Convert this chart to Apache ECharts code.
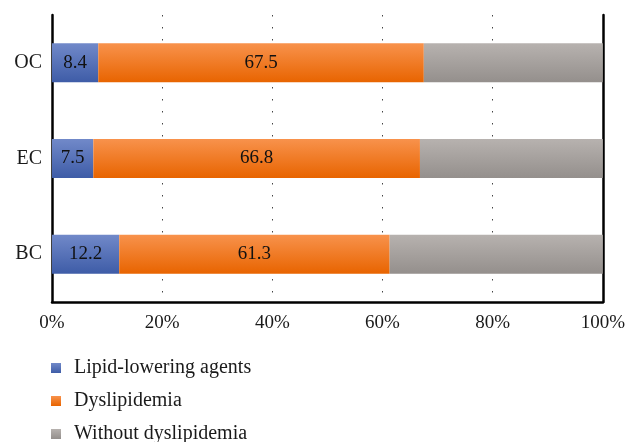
<!DOCTYPE html>
<html>
<head>
<meta charset="utf-8">
<script src="https://cdn.jsdelivr.net/npm/echarts@6/dist/echarts.min.js"></script>
<style>
  html, body { margin: 0; padding: 0; background: #fff; }
  #chart { width: 628px; height: 442px; }
</style>
</head>
<body>
<div id="chart"></div>
<script>
// Share (%) of each cancer group
const categories = ['BC', 'EC', 'OC'];
const lipidLowering = [12.2, 7.5, 8.4];     // on lipid-lowering agents
const dyslipidemia = [61.3, 66.8, 67.5];    // total with dyslipidemia (includes lipid-lowering)
const withoutDys = [38.7, 33.2, 32.5];      // without dyslipidemia
const xTicks = [0, 20, 40, 60, 80, 100];

const FONT = '"Liberation Serif", "DejaVu Serif", serif';

function grad(top, bottom) {
  return new echarts.graphic.LinearGradient(0, 0, 0, 1, [
    { offset: 0, color: top },
    { offset: 1, color: bottom }
  ]);
}

// Orange segment spans from the end of the blue part to the dyslipidemia total
const dysSegment = dyslipidemia.map((v, i) => +(v - lipidLowering[i]).toFixed(1));

const chart = echarts.init(document.getElementById('chart'), null, { renderer: 'canvas' });

chart.setOption({
  animation: false,
  textStyle: { fontFamily: FONT },
  grid: { left: 52, right: 24, top: 15, bottom: 140, containLabel: false },
  legend: {
    orient: 'vertical',
    left: 51,
    top: 358,
    height: 100,
    padding: 0,
    icon: 'rect',
    itemWidth: 10,
    itemHeight: 10,
    itemGap: 13,
    textStyle: {
      fontFamily: FONT, fontSize: 20, lineHeight: 20, color: '#1a1a1a',
      padding: [0, 0, 0, 8]
    },
    data: ['Lipid-lowering agents', 'Dyslipidemia', 'Without dyslipidemia']
  },
  xAxis: {
    type: 'value',
    min: xTicks[0],
    max: xTicks[xTicks.length - 1],
    interval: 20,
    axisLine: { show: true, lineStyle: { color: '#000', width: 2.5 } },
    axisTick: { show: false },
    axisLabel: {
      formatter: '{value}%',
      fontFamily: FONT, fontSize: 19, color: '#1a1a1a', margin: 12
    },
    splitLine: {
      show: true,
      lineStyle: { color: '#444', width: 1, type: [1.5, 10.5] }
    }
  },
  yAxis: [
    {
      type: 'category',
      data: categories,
      axisLine: { show: true, lineStyle: { color: '#000', width: 2.5 } },
      axisTick: { show: false },
      axisLabel: { fontFamily: FONT, fontSize: 20, color: '#1a1a1a', margin: 10 }
    },
    {
      type: 'category',
      data: categories,
      position: 'right',
      axisLine: { show: true, lineStyle: { color: '#000', width: 2.5 } },
      axisTick: { show: false },
      axisLabel: { show: false }
    }
  ],
  series: [
    {
      name: 'Lipid-lowering agents',
      type: 'bar',
      stack: 'total',
      barWidth: 39,
      data: lipidLowering,
      itemStyle: { color: grad('#7189c9', '#3e5ca7') },
      label: {
        show: true, position: 'inside',
        fontFamily: FONT, fontSize: 19, color: '#111',
        formatter: p => lipidLowering[p.dataIndex].toFixed(1)
      }
    },
    {
      name: 'Dyslipidemia',
      type: 'bar',
      stack: 'total',
      barWidth: 39,
      data: dysSegment,
      itemStyle: { color: grad('#f8924c', '#e86400') },
      label: {
        show: true, position: 'inside',
        fontFamily: FONT, fontSize: 19, color: '#111',
        formatter: p => dyslipidemia[p.dataIndex].toFixed(1)
      }
    },
    {
      name: 'Without dyslipidemia',
      type: 'bar',
      stack: 'total',
      barWidth: 39,
      data: withoutDys,
      itemStyle: { color: grad('#b7b2af', '#948f8c') }
    }
  ]
});
</script>
</body>
</html>
